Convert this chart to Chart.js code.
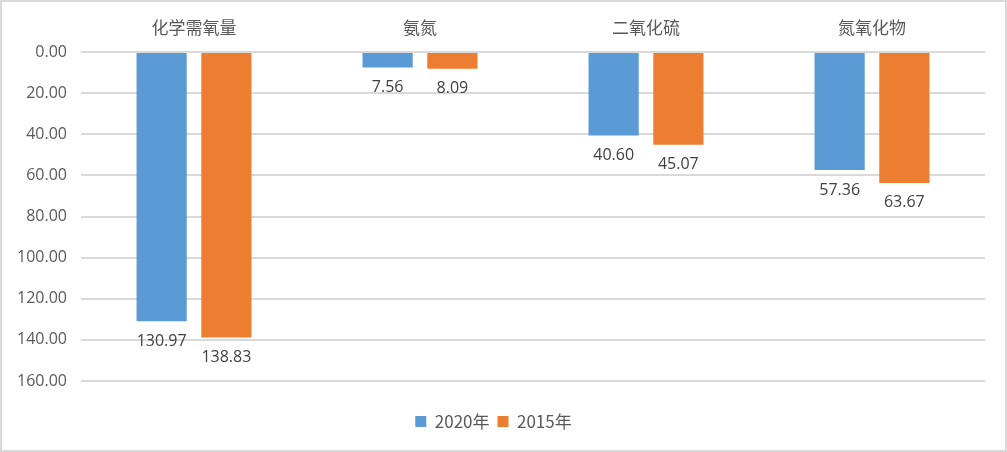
<!DOCTYPE html>
<html>
<head>
<meta charset="utf-8">
<script src="https://cdn.jsdelivr.net/npm/chart.js@4/dist/chart.umd.min.js"></script>
<style>
  html, body { margin: 0; padding: 0; background: #fff; }
  #wrap { width: 1007px; height: 452px; box-sizing: border-box; border: 2px solid #d9d9d9; }
  canvas { display: block; }
</style>
</head>
<body>
<div id="wrap"><canvas id="c" width="1003" height="448"></canvas></div>
<script>
  // 数据
  const categories = ["化学需氧量", "氨氮", "二氧化硫", "氮氧化物"];
  const values2020 = [130.97, 7.56, 40.60, 57.36];
  const values2015 = [138.83, 8.09, 45.07, 63.67];
  const seriesNames = ["2020年", "2015年"];
  const yTicks = [0, 20, 40, 60, 80, 100, 120, 140, 160];

  const cjk = "'Noto Sans CJK SC', 'Noto Sans', sans-serif";
  const latin = "'Open Sans', 'Liberation Sans', sans-serif";

  // 柱子下方的数值标签
  const valueLabels = {
    id: "valueLabels",
    afterDatasetsDraw(chart) {
      const ctx = chart.ctx;
      ctx.save();
      ctx.font = "16px " + latin;
      ctx.fillStyle = "#404040";
      ctx.textAlign = "center";
      ctx.textBaseline = "middle";
      chart.data.datasets.forEach((ds, i) => {
        chart.getDatasetMeta(i).data.forEach((bar, j) => {
          ctx.fillText(ds.data[j].toFixed(2), bar.x, bar.y + 20);
        });
      });
      ctx.restore();
    }
  };

  new Chart(document.getElementById("c"), {
    type: "bar",
    data: {
      labels: categories,
      datasets: [
        { label: seriesNames[0], data: values2020, backgroundColor: "#5B9BD5", categoryPercentage: 0.573, barPercentage: 0.775 },
        { label: seriesNames[1], data: values2015, backgroundColor: "#ED7D31", categoryPercentage: 0.573, barPercentage: 0.775 }
      ]
    },
    options: {
      responsive: false,
      animation: false,
      layout: { padding: { top: 13, right: 20, bottom: 10, left: 0 } },
      scales: {
        x: {
          position: "top",
          grid: { display: false },
          border: { display: false },
          ticks: { color: "#595959", font: { family: cjk, size: 17 }, padding: 6 },
          afterFit(s) { s.height = 37; }
        },
        y: {
          reverse: true,
          min: 0,
          max: 160,
          afterBuildTicks(s) { s.ticks = yTicks.map(v => ({ value: v })); },
          grid: { color: "#d9d9d9", lineWidth: 2, drawTicks: false },
          border: { display: false },
          ticks: {
            color: "#595959",
            font: { family: latin, size: 16 },
            padding: 14,
            callback: v => Number(v).toFixed(2)
          },
          afterFit(s) { s.width = 79; }
        }
      },
      plugins: {
        legend: {
          position: "bottom",
          title: { display: true, text: "", font: { size: 1, lineHeight: 1 }, padding: { top: 23, bottom: 0 } },
          labels: {
            color: "#595959",
            font: { family: cjk, size: 17 },
            boxWidth: 11,
            boxHeight: 11,
            padding: 8
          }
        },
        tooltip: { enabled: false }
      }
    },
    plugins: [valueLabels]
  });
</script>
</body>
</html>
